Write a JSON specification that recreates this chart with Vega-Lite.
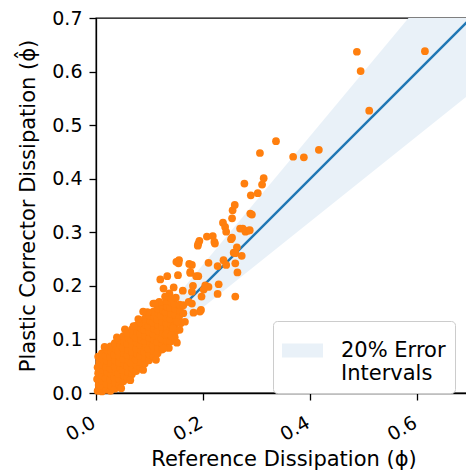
{
  "$schema": "https://vega.github.io/schema/vega-lite/v6.json",
  "width": 375,
  "height": 375,
  "autosize": {"type": "none"},
  "padding": {"left": 96, "top": 18, "right": 0, "bottom": 82},
  "config": {
    "font": "DejaVu Sans",
    "view": {"stroke": "black", "strokeWidth": 1.3},
    "axis": {
      "domainColor": "black", "domainWidth": 1.3,
      "tickColor": "black", "tickWidth": 1.3, "tickSize": 7,
      "labelFont": "DejaVu Sans", "labelFontSize": 19, "labelColor": "black",
      "titleFont": "DejaVu Sans", "titleFontSize": 21, "titleFontWeight": "normal", "titleColor": "black",
      "grid": false
    }
  },
  "datasets": {
    "band": [
      {"x": 0, "lo": 0, "mid": 0, "hi": 0},
      {"x": 0.7, "lo": 0.56, "mid": 0.7, "hi": 0.84}
    ],
    "points": [
      {"ref":0.003,"pc":0.004},{"ref":0.005,"pc":0.015},{"ref":0.002,"pc":0.026},{"ref":0.004,"pc":0.037},{"ref":0.003,"pc":0.048},{"ref":0.006,"pc":0.058},{"ref":0.004,"pc":0.068},
      {"ref":0.011,"pc":0.003},{"ref":0.010,"pc":0.013},{"ref":0.012,"pc":0.023},{"ref":0.011,"pc":0.033},{"ref":0.013,"pc":0.043},{"ref":0.010,"pc":0.053},{"ref":0.012,"pc":0.063},{"ref":0.011,"pc":0.074},
      {"ref":0.019,"pc":0.006},{"ref":0.020,"pc":0.017},{"ref":0.018,"pc":0.028},{"ref":0.021,"pc":0.039},{"ref":0.019,"pc":0.049},{"ref":0.020,"pc":0.060},{"ref":0.018,"pc":0.070},{"ref":0.021,"pc":0.080},
      {"ref":0.027,"pc":0.004},{"ref":0.028,"pc":0.014},{"ref":0.026,"pc":0.025},{"ref":0.029,"pc":0.035},{"ref":0.027,"pc":0.046},{"ref":0.028,"pc":0.056},{"ref":0.026,"pc":0.067},{"ref":0.029,"pc":0.077},{"ref":0.027,"pc":0.087},
      {"ref":0.035,"pc":0.008},{"ref":0.036,"pc":0.019},{"ref":0.034,"pc":0.029},{"ref":0.037,"pc":0.040},{"ref":0.035,"pc":0.050},{"ref":0.036,"pc":0.061},{"ref":0.034,"pc":0.071},{"ref":0.037,"pc":0.082},{"ref":0.035,"pc":0.093},
      {"ref":0.043,"pc":0.015},{"ref":0.044,"pc":0.026},{"ref":0.042,"pc":0.036},{"ref":0.045,"pc":0.047},{"ref":0.043,"pc":0.057},{"ref":0.044,"pc":0.068},{"ref":0.042,"pc":0.078},{"ref":0.045,"pc":0.089},{"ref":0.043,"pc":0.099},
      {"ref":0.051,"pc":0.022},{"ref":0.052,"pc":0.032},{"ref":0.050,"pc":0.043},{"ref":0.053,"pc":0.053},{"ref":0.051,"pc":0.064},{"ref":0.052,"pc":0.074},{"ref":0.050,"pc":0.085},{"ref":0.053,"pc":0.095},{"ref":0.051,"pc":0.106},
      {"ref":0.059,"pc":0.029},{"ref":0.060,"pc":0.039},{"ref":0.058,"pc":0.050},{"ref":0.061,"pc":0.060},{"ref":0.059,"pc":0.071},{"ref":0.060,"pc":0.081},{"ref":0.058,"pc":0.092},{"ref":0.061,"pc":0.102},{"ref":0.059,"pc":0.112},
      {"ref":0.067,"pc":0.035},{"ref":0.068,"pc":0.046},{"ref":0.066,"pc":0.056},{"ref":0.069,"pc":0.067},{"ref":0.067,"pc":0.077},{"ref":0.068,"pc":0.088},{"ref":0.066,"pc":0.098},{"ref":0.069,"pc":0.109},{"ref":0.067,"pc":0.119},
      {"ref":0.075,"pc":0.041},{"ref":0.076,"pc":0.052},{"ref":0.074,"pc":0.062},{"ref":0.077,"pc":0.073},{"ref":0.075,"pc":0.083},{"ref":0.076,"pc":0.094},{"ref":0.074,"pc":0.104},{"ref":0.077,"pc":0.115},{"ref":0.075,"pc":0.126},
      {"ref":0.083,"pc":0.048},{"ref":0.084,"pc":0.058},{"ref":0.082,"pc":0.069},{"ref":0.085,"pc":0.079},{"ref":0.083,"pc":0.090},{"ref":0.084,"pc":0.100},{"ref":0.082,"pc":0.111},{"ref":0.085,"pc":0.121},{"ref":0.083,"pc":0.132},
      {"ref":0.091,"pc":0.055},{"ref":0.092,"pc":0.065},{"ref":0.090,"pc":0.076},{"ref":0.093,"pc":0.086},{"ref":0.091,"pc":0.097},{"ref":0.092,"pc":0.107},{"ref":0.090,"pc":0.118},{"ref":0.093,"pc":0.128},{"ref":0.091,"pc":0.139},
      {"ref":0.099,"pc":0.061},{"ref":0.100,"pc":0.072},{"ref":0.098,"pc":0.082},{"ref":0.101,"pc":0.093},{"ref":0.099,"pc":0.103},{"ref":0.100,"pc":0.114},{"ref":0.098,"pc":0.124},{"ref":0.101,"pc":0.135},{"ref":0.099,"pc":0.145},
      {"ref":0.107,"pc":0.068},{"ref":0.108,"pc":0.078},{"ref":0.106,"pc":0.089},{"ref":0.109,"pc":0.099},{"ref":0.107,"pc":0.110},{"ref":0.108,"pc":0.120},{"ref":0.106,"pc":0.131},{"ref":0.109,"pc":0.141},{"ref":0.107,"pc":0.152},
      {"ref":0.115,"pc":0.074},{"ref":0.116,"pc":0.085},{"ref":0.114,"pc":0.095},{"ref":0.117,"pc":0.106},{"ref":0.115,"pc":0.116},{"ref":0.116,"pc":0.127},{"ref":0.114,"pc":0.137},{"ref":0.117,"pc":0.148},{"ref":0.115,"pc":0.158},
      {"ref":0.123,"pc":0.081},{"ref":0.124,"pc":0.091},{"ref":0.122,"pc":0.102},{"ref":0.125,"pc":0.112},{"ref":0.123,"pc":0.123},{"ref":0.124,"pc":0.133},{"ref":0.122,"pc":0.144},{"ref":0.125,"pc":0.154},{"ref":0.123,"pc":0.165},
      {"ref":0.131,"pc":0.088},{"ref":0.132,"pc":0.098},{"ref":0.130,"pc":0.109},{"ref":0.133,"pc":0.119},{"ref":0.131,"pc":0.130},{"ref":0.132,"pc":0.140},{"ref":0.130,"pc":0.151},{"ref":0.133,"pc":0.161},{"ref":0.131,"pc":0.172},
      {"ref":0.139,"pc":0.096},{"ref":0.140,"pc":0.106},{"ref":0.138,"pc":0.117},{"ref":0.141,"pc":0.127},{"ref":0.139,"pc":0.138},{"ref":0.140,"pc":0.148},{"ref":0.138,"pc":0.159},{"ref":0.141,"pc":0.169},
      {"ref":0.147,"pc":0.104},{"ref":0.148,"pc":0.115},{"ref":0.146,"pc":0.125},{"ref":0.149,"pc":0.136},{"ref":0.147,"pc":0.146},{"ref":0.148,"pc":0.157},{"ref":0.146,"pc":0.167},{"ref":0.149,"pc":0.178},
      {"ref":0.156,"pc":0.118},{"ref":0.158,"pc":0.130},{"ref":0.155,"pc":0.142},{"ref":0.157,"pc":0.153},{"ref":0.156,"pc":0.165},
      {"ref":0.016,"pc":0.086},{"ref":0.039,"pc":0.104},{"ref":0.079,"pc":0.138},{"ref":0.096,"pc":0.151},{"ref":0.118,"pc":0.170},{"ref":0.137,"pc":0.186},
      {"ref":0.047,"pc":0.009},{"ref":0.064,"pc":0.024},{"ref":0.088,"pc":0.043},{"ref":0.112,"pc":0.062},{"ref":0.136,"pc":0.084},
      {"ref":0.054,"pc":0.119},{"ref":0.070,"pc":0.125},{"ref":0.088,"pc":0.152},{"ref":0.107,"pc":0.167},{"ref":0.110,"pc":0.167},
      {"ref":0.120,"pc":0.212},{"ref":0.133,"pc":0.218},{"ref":0.153,"pc":0.220},{"ref":0.176,"pc":0.224},{"ref":0.191,"pc":0.218},
      {"ref":0.145,"pc":0.197},{"ref":0.162,"pc":0.191},{"ref":0.126,"pc":0.195},{"ref":0.179,"pc":0.189},{"ref":0.204,"pc":0.201},
      {"ref":0.129,"pc":0.180},{"ref":0.141,"pc":0.177},{"ref":0.179,"pc":0.167},{"ref":0.163,"pc":0.164},{"ref":0.194,"pc":0.152},
      {"ref":0.182,"pc":0.150},{"ref":0.163,"pc":0.149},{"ref":0.151,"pc":0.133},{"ref":0.166,"pc":0.133},{"ref":0.144,"pc":0.121},
      {"ref":0.132,"pc":0.111},{"ref":0.151,"pc":0.094},{"ref":0.126,"pc":0.083},{"ref":0.141,"pc":0.108},
      {"ref":0.191,"pc":0.279},{"ref":0.222,"pc":0.279},{"ref":0.154,"pc":0.242},{"ref":0.150,"pc":0.245},{"ref":0.155,"pc":0.248},
      {"ref":0.179,"pc":0.239},{"ref":0.174,"pc":0.241},{"ref":0.176,"pc":0.226},{"ref":0.210,"pc":0.243},{"ref":0.238,"pc":0.248},
      {"ref":0.227,"pc":0.237},{"ref":0.243,"pc":0.239},{"ref":0.187,"pc":0.218},{"ref":0.181,"pc":0.200},{"ref":0.197,"pc":0.180},
      {"ref":0.201,"pc":0.193},{"ref":0.210,"pc":0.198},{"ref":0.227,"pc":0.185},{"ref":0.229,"pc":0.203},{"ref":0.173,"pc":0.170},
      {"ref":0.196,"pc":0.155},{"ref":0.207,"pc":0.292},{"ref":0.218,"pc":0.293},{"ref":0.221,"pc":0.282},{"ref":0.193,"pc":0.284},
      {"ref":0.190,"pc":0.275},{"ref":0.252,"pc":0.287},{"ref":0.263,"pc":0.272},{"ref":0.257,"pc":0.262},{"ref":0.237,"pc":0.318},
      {"ref":0.241,"pc":0.310},{"ref":0.243,"pc":0.301},{"ref":0.260,"pc":0.261},{"ref":0.272,"pc":0.256},{"ref":0.260,"pc":0.242},
      {"ref":0.264,"pc":0.225},{"ref":0.260,"pc":0.180},{"ref":0.254,"pc":0.290},{"ref":0.279,"pc":0.301},{"ref":0.284,"pc":0.303},
      {"ref":0.269,"pc":0.307},{"ref":0.274,"pc":0.307},{"ref":0.287,"pc":0.304},
      {"ref":0.254,"pc":0.326},{"ref":0.255,"pc":0.341},{"ref":0.259,"pc":0.351},{"ref":0.288,"pc":0.335},{"ref":0.291,"pc":0.333},
      {"ref":0.289,"pc":0.369},{"ref":0.302,"pc":0.373},{"ref":0.310,"pc":0.389},{"ref":0.313,"pc":0.401},{"ref":0.277,"pc":0.391},
      {"ref":0.306,"pc":0.448},{"ref":0.336,"pc":0.470},{"ref":0.368,"pc":0.441},{"ref":0.388,"pc":0.440},{"ref":0.416,"pc":0.454},
      {"ref":0.510,"pc":0.527},{"ref":0.494,"pc":0.601},{"ref":0.487,"pc":0.637},{"ref":0.614,"pc":0.638}
    ]
  },
  "layer": [
    {
      "data": {"name": "band"},
      "mark": {"type": "area", "clip": true},
      "encoding": {
        "x": {"field": "x", "type": "quantitative", "scale": {"domain": [0, 0.7], "nice": false},
              "axis": {"values": [0, 0.2, 0.4, 0.6], "format": ".1f", "labelAngle": -30, "labelAlign": "right", "labelBaseline": "top", "labelPadding": 13, "labelOffset": -7, "title": "Reference Dissipation (ϕ)", "titlePadding": 4}},
        "y": {"field": "hi", "type": "quantitative", "scale": {"domain": [0, 0.7], "nice": false},
              "axis": {"values": [0, 0.1, 0.2, 0.3, 0.4, 0.5, 0.6, 0.7], "format": ".1f", "labelPadding": 7, "title": "Plastic Corrector Dissipation (ϕ̂)", "titlePadding": 13}},
        "y2": {"field": "lo"},
        "fill": {"datum": "20% Error Intervals", "type": "nominal", "scale": {"range": ["#e9f1f8"]},
                 "legend": {"orient": "none", "legendX": 177, "legendY": 303, "title": null,
                            "symbolType": "M-1,-0.34L1,-0.34L1,0.34L-1,0.34Z", "symbolSize": 1681, "symbolStrokeWidth": 0, "symbolOpacity": 1,
                            "labelFont": "DejaVu Sans", "labelFontSize": 21, "labelColor": "black", "labelLimit": 300,
                            "labelExpr": "['20% Error', 'Intervals']", "labelOffset": 18,
                            "strokeColor": "#cccccc", "fillColor": "white", "cornerRadius": 4, "padding": 9}}
      }
    },
    {
      "data": {"name": "band"},
      "mark": {"type": "line", "color": "#1f77b4", "strokeWidth": 2.3, "clip": true},
      "encoding": {
        "x": {"field": "x", "type": "quantitative"},
        "y": {"field": "mid", "type": "quantitative"}
      }
    },
    {
      "data": {"name": "points"},
      "mark": {"type": "circle", "size": 60, "color": "#ff7f0e", "opacity": 1},
      "encoding": {
        "x": {"field": "ref", "type": "quantitative"},
        "y": {"field": "pc", "type": "quantitative"}
      }
    }
  ]
}
